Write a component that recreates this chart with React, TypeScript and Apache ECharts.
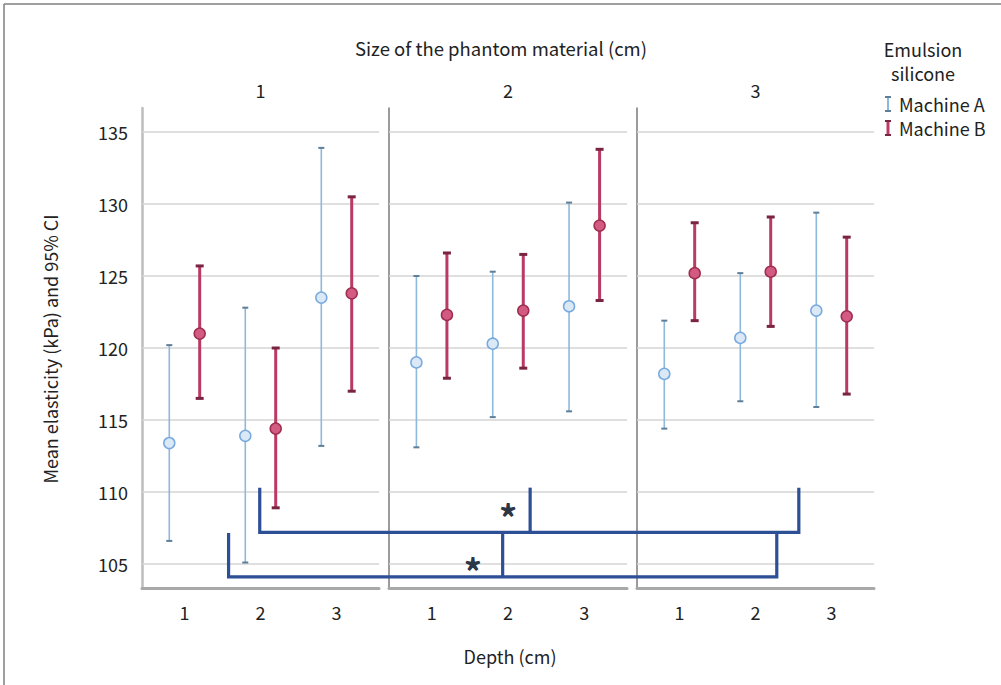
import React, { useEffect, useRef } from "react";
import * as echarts from "echarts";

const FONT = '"Noto Sans CJK SC", "Noto Sans", sans-serif';

// Facets: size of the phantom material (cm)
const sizes = ["1", "2", "3"];
// Depth categories (cm)
const depths = [1, 2, 3];
const yTicks = [105, 110, 115, 120, 125, 130, 135];

// Values ordered: size1 depth1..3, size2 depth1..3, size3 depth1..3
const aMean = [113.4, 113.9, 123.5, 119.0, 120.3, 122.9, 118.2, 120.7, 122.6];
const aLow = [106.6, 105.1, 113.2, 113.1, 115.2, 115.6, 114.4, 116.3, 115.9];
const aHigh = [120.2, 122.8, 133.9, 125.0, 125.3, 130.1, 121.9, 125.2, 129.4];

const bMean = [121.0, 114.4, 123.8, 122.3, 122.6, 128.5, 125.2, 125.3, 122.2];
const bLow = [116.5, 108.9, 117.0, 117.9, 118.6, 123.3, 121.9, 121.5, 116.8];
const bHigh = [125.7, 120.0, 130.5, 126.6, 126.5, 133.8, 128.7, 129.1, 127.7];

// Significance brackets: one leg in each facet (depth position in facets 1, 2, 3)
const upperBracketX = [1.99, 2.29, 2.57];
const upperBracketTop = 110.3;
const upperBracketBase = 107.2;
const lowerBracketX = [1.58, 1.93, 2.28];
const lowerBracketTop = 107.15;
const lowerBracketBase = 104.1;
const starUpper = [1, 2.0, 108.35];
const starLower = [1, 1.54, 104.6];

const Y_MIN = 103.33;
const Y_MAX = 136.67;
const X_MIN = 0.441;
const X_MAX = 3.559;

const gridRects = [
  { left: 142, width: 237 },
  { left: 389, width: 238 },
  { left: 637, width: 237 },
];

const STYLE_A = {
  line: "#8db9dc",
  lineWidth: 1.6,
  cap: "#5f7f98",
  capW: 2,
  capHalf: 3,
  fill: "#dbe9f7",
  stroke: "#78aadf",
  r: 5.5,
};
const STYLE_B = {
  line: "#b93a62",
  lineWidth: 3,
  cap: "#7a2444",
  capW: 3,
  capHalf: 4,
  fill: "#d35a82",
  stroke: "#9e2e4f",
  r: 5.5,
};

function errorSeries(p: number, low: number[], high: number[], mean: number[], off: number, st: any) {
  return {
    type: "custom",
    xAxisIndex: p,
    yAxisIndex: p,
    z: 5,
    silent: true,
    data: depths.map((d, i) => [d, low[p * 3 + i], high[p * 3 + i], mean[p * 3 + i]]),
    renderItem: (params: any, api: any) => {
      const x = api.value(0) + off;
      const lo = api.coord([x, api.value(1)]);
      const hi = api.coord([x, api.value(2)]);
      const mu = api.coord([x, api.value(3)]);
      return {
        type: "group",
        children: [
          {
            type: "line",
            shape: { x1: lo[0], y1: lo[1], x2: hi[0], y2: hi[1] },
            style: { stroke: st.line, lineWidth: st.lineWidth },
          },
          {
            type: "line",
            shape: { x1: hi[0] - st.capHalf, y1: hi[1], x2: hi[0] + st.capHalf, y2: hi[1] },
            style: { stroke: st.cap, lineWidth: st.capW },
          },
          {
            type: "line",
            shape: { x1: lo[0] - st.capHalf, y1: lo[1], x2: lo[0] + st.capHalf, y2: lo[1] },
            style: { stroke: st.cap, lineWidth: st.capW },
          },
          {
            type: "circle",
            shape: { cx: mu[0], cy: mu[1], r: st.r },
            style: { fill: st.fill, stroke: st.stroke, lineWidth: 1.5 },
          },
        ],
      };
    },
  };
}

export default function App() {
  const ref = useRef<HTMLDivElement>(null);
  useEffect(() => {
    const chart = echarts.init(ref.current!, null, { renderer: "svg", width: 1001, height: 685 });

    const grids = gridRects.map((g) => ({ left: g.left, width: g.width, top: 108, height: 480 }));
    const xAxes = gridRects.map((_, p) => ({
      type: "value",
      gridIndex: p,
      min: X_MIN,
      max: X_MAX,
      axisLine: { show: true, onZero: false, lineStyle: { color: "#a8a8a8", width: 3 } },
      axisTick: { show: false },
      splitLine: { show: false },
      axisLabel: {
        customValues: depths,
        margin: 15,
        fontFamily: FONT,
        fontSize: 18,
        color: "#222",
        formatter: (v: number) => String(v),
      },
    }));
    const yAxes = gridRects.map((_, p) => ({
      type: "value",
      gridIndex: p,
      min: Y_MIN,
      max: Y_MAX,
      axisLine: {
        show: true,
        onZero: false,
        lineStyle: p === 0 ? { color: "#bdbdbd", width: 2.5 } : { color: "#7a7a7a", width: 1.5 },
      },
      axisTick: { show: false },
      splitLine: { show: false },
      axisLabel:
        p === 0
          ? {
              customValues: yTicks,
              margin: 14,
              fontFamily: FONT,
              fontSize: 18,
              color: "#222",
              formatter: (v: number) => String(v),
            }
          : { show: false },
    }));

    const series: any[] = [];
    gridRects.forEach((_, p) => {
      series.push({
        type: "line",
        xAxisIndex: p,
        yAxisIndex: p,
        data: [],
        z: 1,
        silent: true,
        markLine: {
          silent: true,
          symbol: "none",
          label: { show: false },
          lineStyle: { color: "#d4d4d4", width: 1.5, type: "solid" },
          data: yTicks.map((v) => ({ yAxis: v })),
        },
      });
      series.push(errorSeries(p, aLow, aHigh, aMean, -0.2, STYLE_A));
      series.push(errorSeries(p, bLow, bHigh, bMean, 0.2, STYLE_B));
    });

    chart.setOption({
      animation: false,
      backgroundColor: "#ffffff",
      grid: grids,
      xAxis: xAxes,
      yAxis: yAxes,
      series,
    });

    const px = (p: number, x: number, y: number) => chart.convertToPixel({ gridIndex: p }, [x, y]) as number[];

    const bracket = (xs: number[], top: number, base: number) => {
      const l0 = px(0, xs[0], top);
      const l1 = px(0, xs[0], base);
      const r1 = px(2, xs[2], base);
      const r0 = px(2, xs[2], top);
      const m0 = px(1, xs[1], top);
      const m1 = px(1, xs[1], base);
      const st = { stroke: "#2d4f95", lineWidth: 3.2, fill: null as any };
      return [
        { type: "polyline", z: 20, shape: { points: [l0, l1, r1, r0] }, style: st },
        { type: "line", z: 20, shape: { x1: m0[0], y1: m0[1], x2: m1[0], y2: m1[1] }, style: st },
      ];
    };
    const star = (s: number[]) => {
      const c = px(s[0], s[1], s[2]);
      return {
        type: "text",
        z: 21,
        x: c[0],
        y: c[1],
        style: {
          text: "*",
          fontFamily: FONT,
          fontSize: 36,
          fontWeight: "bold",
          fill: "#2b3646",
          align: "center",
          verticalAlign: "middle",
        },
      };
    };

    const txt = (text: string, x: number, y: number, extra: any = {}) => ({
      type: "text",
      x,
      y,
      style: {
        text,
        fontFamily: FONT,
        fontSize: 18,
        fill: "#222",
        align: "center",
        verticalAlign: "middle",
        ...extra,
      },
    });

    const panelLabels = sizes.map((s, p) => {
      const c = px(p, 2, Y_MAX);
      return txt(s, c[0], 90);
    });

    const legendIcon = (y: number, st: any) => ({
      type: "group",
      children: [
        { type: "line", shape: { x1: 888, y1: y - 7, x2: 888, y2: y + 7 }, style: { stroke: st.line, lineWidth: st === STYLE_A ? 2 : 3 } },
        { type: "line", shape: { x1: 885, y1: y - 7, x2: 891, y2: y - 7 }, style: { stroke: st.cap, lineWidth: 2 } },
        { type: "line", shape: { x1: 885, y1: y + 7, x2: 891, y2: y + 7 }, style: { stroke: st.cap, lineWidth: 2 } },
      ],
    });

    chart.setOption({
      graphic: [
        { type: "line", shape: { x1: 4, y1: 4, x2: 1001, y2: 4 }, style: { stroke: "#7f7f7f", lineWidth: 1.5 } },
        { type: "line", shape: { x1: 4, y1: 4, x2: 4, y2: 685 }, style: { stroke: "#7f7f7f", lineWidth: 1.5 } },
        txt("Size of the phantom material (cm)", 501, 48, { fontSize: 18.5 }),
        ...panelLabels,
        txt("Depth (cm)", 510, 656),
        { ...txt("Mean elasticity (kPa) and 95% CI", 50, 349), rotation: Math.PI / 2 },
        txt("Emulsion", 923, 49),
        txt("silicone", 923, 73),
        legendIcon(104, STYLE_A),
        txt("Machine A", 899, 104, { align: "left" }),
        legendIcon(128, STYLE_B),
        txt("Machine B", 899, 128, { align: "left" }),
        ...bracket(upperBracketX, upperBracketTop, upperBracketBase),
        ...bracket(lowerBracketX, lowerBracketTop, lowerBracketBase),
        star(starUpper),
        star(starLower),
      ],
    });

    return () => chart.dispose();
  }, []);
  return (
    <div
      ref={ref}
      style={{ position: "fixed", left: 0, top: 0, width: 1001, height: 685, background: "#fff" }}
    />
  );
}
